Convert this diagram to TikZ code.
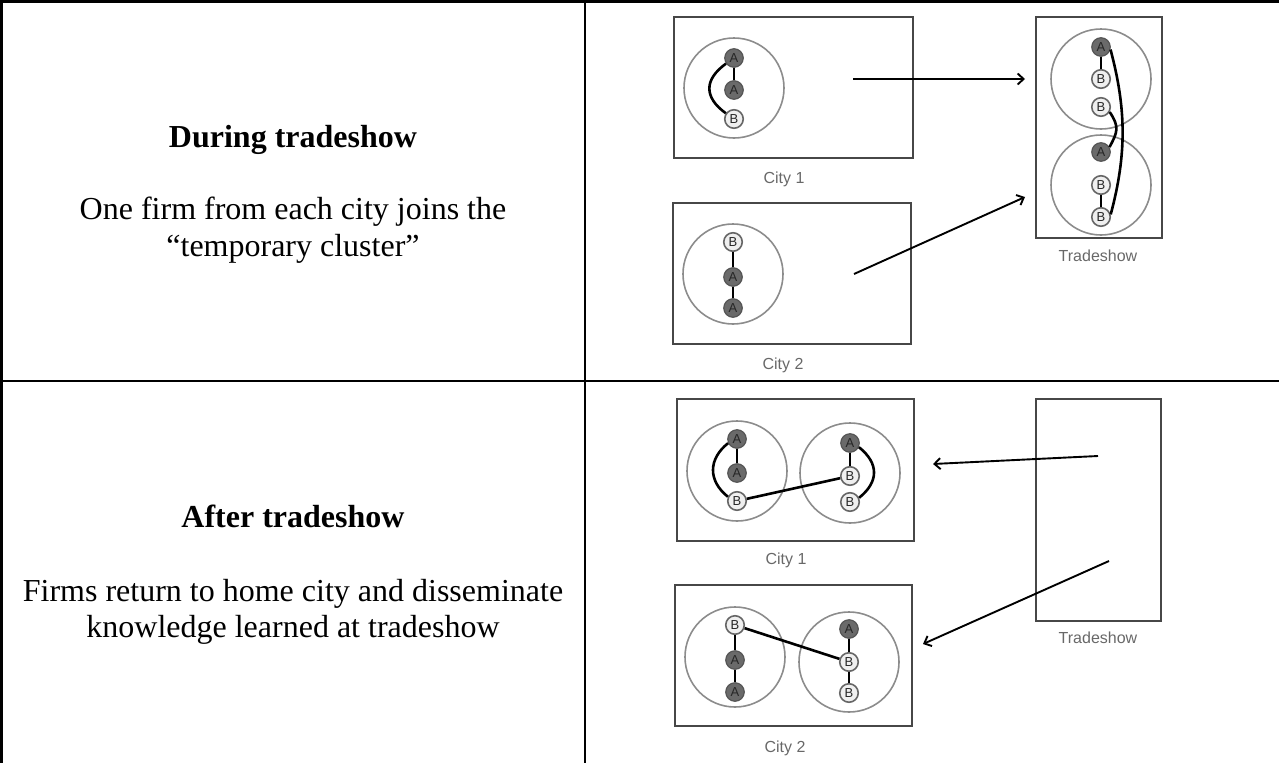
\documentclass[tikz,border=0pt]{standalone}
\usepackage{fontspec}
\setmainfont{Liberation Serif}
\newfontfamily\lsans{Liberation Sans}
\usetikzlibrary{arrows.meta}
\definecolor{boxc}{HTML}{474747}
\definecolor{grpc}{HTML}{8C8C8C}
\definecolor{afill}{HTML}{6A6A6A}
\definecolor{bfill}{HTML}{EFEFEF}
\definecolor{lblc}{HTML}{686868}
\tikzset{
 tbl/.style={line width=2.5pt, black},
 box/.style={draw=boxc, line width=2.3pt},
 grp/.style={circle, draw=grpc, line width=1.6pt, minimum size=100pt, inner sep=0pt},
 fa/.style={circle, fill=afill, draw=afill!80!black, line width=1.2pt, minimum size=18.5pt, inner sep=0pt, font=\lsans\fontsize{13}{13}\selectfont, text=black!85},
 fb/.style={fa, fill=bfill, draw=black!60, line width=1.6pt},
 lnk/.style={line width=2.6pt, black},
 arr/.style={line width=1.9pt, -{Straight Barb[length=6pt,width=11pt]}},
 lbl/.style={font=\lsans\fontsize{16}{16}\selectfont, text=lblc},
 head/.style={font=\bfseries\fontsize{32}{36}\selectfont, anchor=base},
 body/.style={font=\fontsize{32}{36}\selectfont, anchor=base},
}
\begin{document}
\begin{tikzpicture}[x=1pt,y=-1pt]
\useasboundingbox (0,0) rectangle (1279,763);
% table
\draw[tbl] (0,1.5) -- (1279,1.5);
\draw[tbl] (0,381) -- (1279,381);
\draw[tbl] (1.5,0) -- (1.5,763);
\draw[tbl] (585,0) -- (585,763);
% left texts
\node[head] (h1) at (293,147) {During tradeshow};
\node[body] (t1) at (293,219) {One firm from each city joins the};
\node[body] (t2) at (293,256) {“temporary cluster”};
\node[head] (h2) at (293,527) {After tradeshow};
\node[body] (t3) at (293,601) {Firms return to home city and disseminate};
\node[body] (t4) at (293,637) {knowledge learned at tradeshow};

% ===== top row =====
\draw[box] (674,17) rectangle (913,158);
\node[lbl] (lc1) at (784,179) {City 1};
\node[grp] (g1) at (734,88) {};
\node[fa] (ta1) at (734,58) {A};
\node[fa] (ta2) at (734,90) {A};
\node[fb] (tb1) at (734,119) {B};
\draw[lnk] (ta1) -- (ta2);
\draw[lnk] (ta1.215) .. controls +(-22,16) and +(-22,-16) .. (tb1.145);

\draw[box] (673,203) rectangle (911,344);
\node[lbl] (lc2) at (783,365) {City 2};
\node[grp] (g2) at (733,274) {};
\node[fb] (tc1) at (733,242) {B};
\node[fa] (tc2) at (733,277) {A};
\node[fa] (tc3) at (733,308) {A};
\draw[lnk] (tc1) -- (tc2);
\draw[lnk] (tc2) -- (tc3);

\draw[box] (1036,17) rectangle (1162,238);
\node[lbl] (lt1) at (1098,256) {Tradeshow};
\node[grp] (g3) at (1101,79) {};
\node[grp] (g4) at (1101,185) {};
\node[fa] (s1) at (1101,47) {A};
\node[fb] (s2) at (1101,79) {B};
\node[fb] (s3) at (1101,107) {B};
\node[fa] (s4) at (1101,152) {A};
\node[fb] (s5) at (1101,185) {B};
\node[fb] (s6) at (1101,217) {B};
\draw[lnk] (s1) -- (s2);
\draw[lnk] (s5) -- (s6);
\draw[lnk] (s3.330) .. controls +(10,15) and +(8,-15) .. (s4.30);
\draw[lnk] (s1.345) .. controls +(16,60) and +(16,-60) .. (s6.15);

\coordinate (p1) at (853,79);
\coordinate (q1) at (1025,79);
\coordinate (p2) at (854,274);
\coordinate (q2) at (1025,197);
\draw[arr] (p1) -- (q1);
\draw[arr] (p2) -- (q2);

% ===== bottom row =====
\draw[box] (677,399) rectangle (914,541);
\node[lbl] (lc3) at (786,560) {City 1};
\node[grp] (g5) at (737,471) {};
\node[grp] (g6) at (850,473) {};
\node[fa] (u1) at (737,439) {A};
\node[fa] (u2) at (737,473) {A};
\node[fb] (u3) at (737,501) {B};
\node[fa] (v1) at (850,443) {A};
\node[fb] (v2) at (850,476) {B};
\node[fb] (v3) at (850,502) {B};
\draw[lnk] (u1) -- (u2);
\draw[lnk] (u1.205) .. controls +(-20,16) and +(-20,-16) .. (u3.155);
\draw[lnk] (v1) -- (v2);
\draw[lnk] (v1.335) .. controls +(20,16) and +(20,-16) .. (v3.25);
\draw[lnk] (u3) -- (v2);

\draw[box] (675,585) rectangle (912,726);
\node[lbl] (lc4) at (785,748) {City 2};
\node[grp] (g7) at (735,657) {};
\node[grp] (g8) at (849,662) {};
\node[fb] (w1) at (735,625) {B};
\node[fa] (w2) at (735,660) {A};
\node[fa] (w3) at (735,692) {A};
\node[fa] (z1) at (849,629) {A};
\node[fb] (z2) at (849,662) {B};
\node[fb] (z3) at (849,693) {B};
\draw[lnk] (w1) -- (w2);
\draw[lnk] (w2) -- (w3);
\draw[lnk] (z1) -- (z2);
\draw[lnk] (z2) -- (z3);
\draw[lnk] (w1) -- (z2);

\draw[box] (1036,399) rectangle (1161,621);
\node[lbl] (lt2) at (1098,638) {Tradeshow};

\coordinate (p3) at (1098,456);
\coordinate (q3) at (933,464);
\coordinate (p4) at (1109,561);
\coordinate (q4) at (923,644);
\draw[arr] (p3) -- (q3);
\draw[arr] (p4) -- (q4);
\end{tikzpicture}
\end{document}
